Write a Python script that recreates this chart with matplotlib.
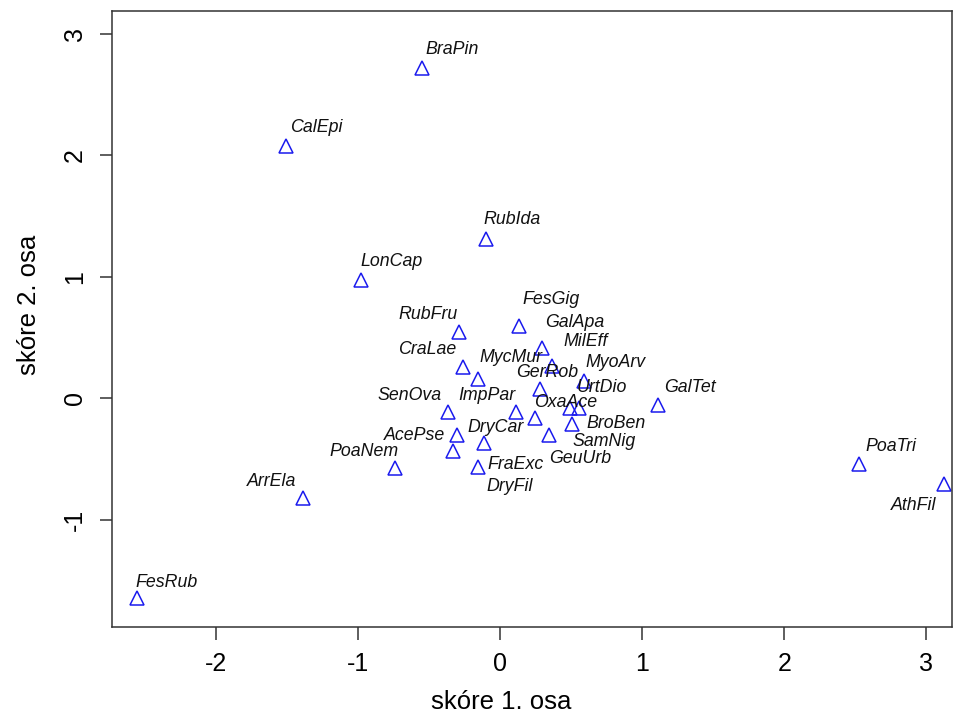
import numpy as np
import matplotlib.pyplot as plt

plt.rcParams['font.family'] = ['Liberation Sans', 'DejaVu Sans']
plt.rcParams['axes.unicode_minus'] = False

# species scores (axis 1, axis 2)
species = ["BraPin", "CalEpi", "RubIda", "LonCap", "FesGig", "RubFru", "GalApa",
           "MilEff", "CraLae", "MycMur", "MyoArv", "GerRob", "GalTet", "UrtDio",
           "BroBen", "SenOva", "ImpPar", "OxaAce", "SamNig", "AcePse", "GeuUrb",
           "DryCar", "FraExc", "DryFil", "PoaNem", "ArrEla", "PoaTri", "AthFil",
           "FesRub"]
score1 = [-0.549, -1.505, -0.098, -0.977, 0.134, -0.288, 0.295,
          0.366, -0.260, -0.155, 0.591, 0.281, 1.111, 0.492,
          0.559, -0.366, 0.113, 0.246, 0.506, -0.302, 0.345,
          -0.331, -0.113, -0.155, -0.738, -1.385, 2.525, 3.122,
          -2.553]
score2 = [2.720, 2.078, 1.313, 0.975, 0.597, 0.547, 0.416,
          0.267, 0.259, 0.160, 0.144, 0.078, -0.053, -0.078,
          -0.082, -0.111, -0.111, -0.160, -0.210, -0.300, -0.305,
          -0.432, -0.366, -0.564, -0.572, -0.819, -0.539, -0.704,
          -1.642]

# label placement relative to point (pixels, x right / y up)
label_dx = [30, 30, 26, 31, 32, -31, 33,
            34, -36, 33, 32, 7, 32, 32,
            37, -38, -29, 31, 32, -42, 31,
            43, 32, 32, -31, -31, 32, -30,
            30]
label_dy = [18, 18, 19, 18, 26, 17, 25,
            24, 17, 21, 18, 16, 17, 20,
            -15, 16, 16, 15, -18, -1, -23,
            23, -22, -20, 16, 16, 17, -22,
            15]

fig = plt.figure(figsize=(9.62, 7.24), dpi=100)
ax = fig.add_axes([0.1164, 0.134, 0.873, 0.851])

ax.plot(score1, score2, linestyle='none', marker='^', markersize=9.5,
        markerfacecolor='none', markeredgecolor='#1a1aee', markeredgewidth=1.1)

for name, x, y, dx, dy in zip(species, score1, score2, label_dx, label_dy):
    ax.annotate(name, (x, y), xytext=(dx, dy), textcoords='offset pixels',
                ha='center', va='center', fontsize=12.8, style='italic',
                color='#111111')

ax.set_xlim(-2.729, 3.179)
ax.set_ylim(-1.881, 3.189)
ax.set_xticks([-2, -1, 0, 1, 2, 3])
ax.set_yticks([-1, 0, 1, 2, 3])
ax.tick_params(length=9, width=1.1, labelsize=18, pad=9, color='#333333')
for lab in ax.get_yticklabels():
    lab.set_rotation(90)
    lab.set_va('center')
for s in ax.spines.values():
    s.set_color('#333333')
    s.set_linewidth(1.1)

ax.set_xlabel("skóre 1. osa", fontsize=18.5)
ax.set_ylabel("skóre 2. osa", fontsize=18.5)
ax.xaxis.set_label_coords(0.464, -0.102)
ax.yaxis.set_label_coords(-0.084, 0.523)

fig.savefig("out.png", dpi=100)
